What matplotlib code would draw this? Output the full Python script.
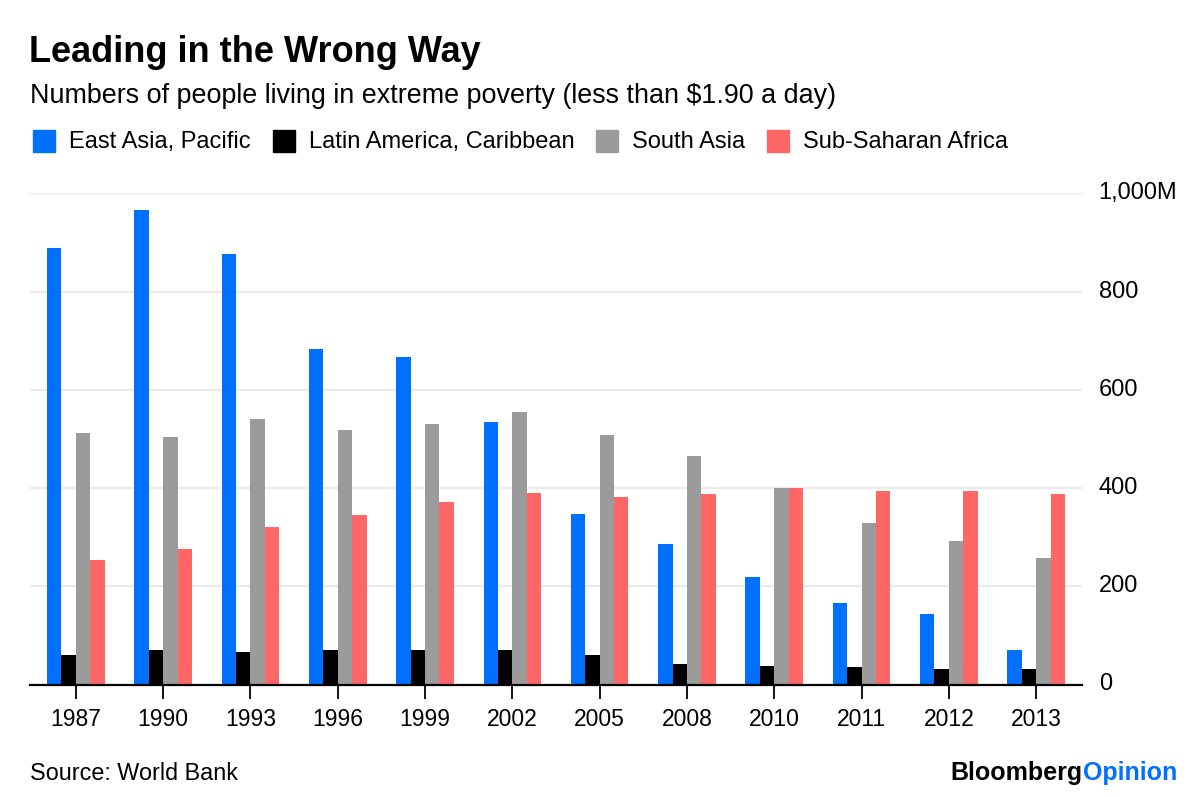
#!/usr/bin/env python3
import matplotlib
matplotlib.use("Agg")
import matplotlib.pyplot as plt
import numpy as np
from matplotlib.patches import Rectangle

years = ['1987', '1990', '1993', '1996', '1999', '2002', '2005', '2008',
         '2010', '2011', '2012', '2013']

# millions of people below $1.90 a day
east_asia = [889, 967, 876, 684, 667, 534, 348, 286, 218, 165, 143, 71]
latin_america = [61, 71, 67, 71, 71, 71, 61, 41, 38, 35, 31, 31]
south_asia = [511, 504, 540, 518, 530, 554, 508, 465, 400, 329, 293, 257]
africa = [253, 276, 321, 345, 371, 390, 381, 388, 400, 394, 394, 388]

series_names = ['East Asia, Pacific', 'Latin America, Caribbean',
                'South Asia', 'Sub-Saharan Africa']
colors = ['#0070FF', '#000000', '#9B9B9B', '#FF6666']

y_ticks = [0, 200, 400, 600, 800, 1000]
y_labels = ['0', '200', '400', '600', '800', '1,000M']

plt.rcParams['font.family'] = ['Liberation Sans', 'DejaVu Sans']

W, H = 1200, 797


def fx(px):
    return px / W


def fy(py):
    return 1 - py / H


def main():
    fig = plt.figure(figsize=(12, 7.97), dpi=100)
    ax = fig.add_axes([fx(30), fy(684.5), fx(1082 - 30), fy(193.3) - fy(684.5)])

    x = np.arange(len(years))
    width = 0.165
    data = [east_asia, latin_america, south_asia, africa]
    for i, (vals, col) in enumerate(zip(data, colors)):
        ax.bar(x + (i - 1.5) * width, vals, width, color=col, zorder=3,
               linewidth=0)

    ax.set_xlim(-0.525, len(years) - 1 + 0.525)
    ax.set_ylim(0, 1000)
    for t in y_ticks[1:]:
        ax.axhline(t, color='#EBEBEB', lw=1.6, zorder=1)

    for s in ['top', 'left', 'right']:
        ax.spines[s].set_visible(False)
    ax.spines['bottom'].set_color('black')
    ax.spines['bottom'].set_linewidth(1.6)
    ax.spines['bottom'].set_zorder(4)

    ax.set_xticks(x)
    ax.set_xticklabels(years, fontsize=16.5)
    ax.tick_params(axis='x', length=10, width=1.3, color='black', pad=7)

    ax.yaxis.tick_right()
    ax.set_yticks(y_ticks)
    ax.set_yticklabels(y_labels, fontsize=17)
    ax.tick_params(axis='y', length=0, pad=12)
    for lab in ax.get_yticklabels():
        lab.set_verticalalignment('center')

    # title block
    fig.text(fx(29), fy(52), 'Leading in the Wrong Way', fontsize=26,
             fontweight='bold', va='center', ha='left')
    fig.text(fx(30), fy(96), 'Numbers of people living in extreme poverty '
             '(less than $1.90 a day)', fontsize=19.4, va='center', ha='left')

    # legend row
    fig.canvas.draw()
    renderer = fig.canvas.get_renderer()
    xpos = 33
    for name, col in zip(series_names, colors):
        fig.patches.append(Rectangle((fx(xpos), fy(152)), fx(22),
                                     fy(130) - fy(152), color=col,
                                     transform=fig.transFigure, figure=fig))
        t = fig.text(fx(xpos + 36), fy(142), name, fontsize=17,
                     va='center', ha='left')
        bb = t.get_window_extent(renderer)
        xpos = bb.x1 + 22

    # footer
    fig.text(fx(30), fy(773), 'Source: World Bank', fontsize=16.8,
             va='center', ha='left')
    op = fig.text(fx(1177), fy(773), 'Opinion', fontsize=18,
                  fontweight='bold', color='#0070FF', va='center', ha='right')
    bb = op.get_window_extent(renderer)
    fig.text(bb.x0 / W, fy(773), 'Bloomberg', fontsize=18,
             fontweight='bold', color='black', va='center', ha='right')

    fig.savefig('out.png', dpi=100, facecolor='white')


if __name__ == "__main__":
    main()
